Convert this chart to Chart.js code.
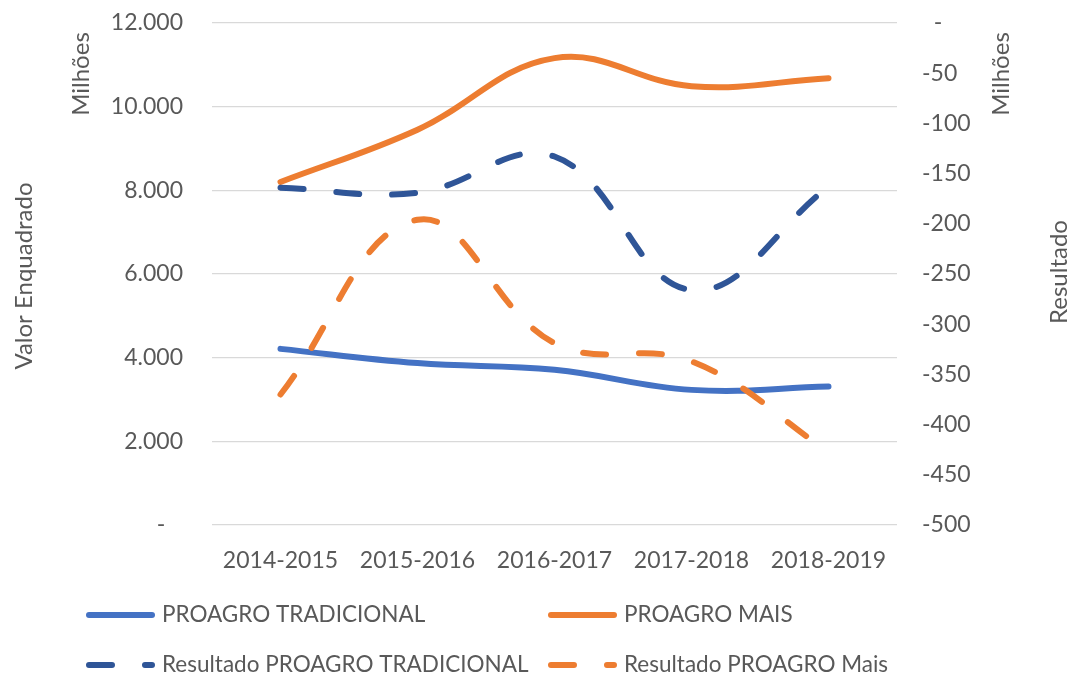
<!DOCTYPE html>
<html>
<head>
<meta charset="utf-8">
<script src="https://cdn.jsdelivr.net/npm/chart.js@4.4.0/dist/chart.umd.min.js"></script>
<style>
  html, body { margin: 0; padding: 0; background: #fff; }
  #wrap { width: 1074px; height: 679px; }
</style>
</head>
<body>
<div id="wrap"><canvas id="chart" width="1074" height="679"></canvas></div>
<script>
// dados (valores em milhões)
const categories = ['2014-2015', '2015-2016', '2016-2017', '2017-2018', '2018-2019'];
const proagroTradicional = [4210, 3870, 3710, 3230, 3310];
const proagroMais = [8200, 9450, 11160, 10490, 10680];
const resultadoTradicional = [-164, -169, -133, -266, -163];
const resultadoMais = [-370, -196, -319, -337, -427];

const leftTicks = [0, 2000, 4000, 6000, 8000, 10000, 12000];
const rightTicks = [-500, -450, -400, -350, -300, -250, -200, -150, -100, -50, 0];

const FONT = 'Lato, "Open Sans", sans-serif';
const TEXT = '#595959';
const BLUE = '#4472C4';
const ORANGE = '#ED7D31';
const DARKBLUE = '#2F5597';
const DASH = [23, 33];

function fmtMil(v) {
    if (v === 0) return '-   ';
    return String(v).replace(/\B(?=(\d{3})+(?!\d))/g, '.');
}

// sem folga extra acima/abaixo dos eixos verticais
function fixVertical(width) {
    return (s) => {
        s.width = width;
        s.paddingTop = 0;
        s.paddingBottom = 0;
    };
}

// títulos dos eixos + legenda desenhados à mão
const extrasPlugin = {
    id: 'extras',
    afterDraw(chart) {
        const ctx = chart.ctx;
        const area = chart.chartArea;
        const midY = (area.top + area.bottom) / 2;
        ctx.save();
        ctx.fillStyle = TEXT;
        ctx.font = '24px ' + FONT;
        ctx.textAlign = 'center';
        ctx.textBaseline = 'middle';

        const vtext = (txt, x, y) => {
            ctx.save();
            ctx.translate(x, y);
            ctx.rotate(-Math.PI / 2);
            ctx.fillText(txt, 0, 0);
            ctx.restore();
        };
        vtext('Valor Enquadrado', 24, midY + 2);
        vtext('Milhões', 81, 74);
        vtext('Milhões', 1001, 74);
        vtext('Resultado', 1059, midY - 2);

        // legenda 2x2
        ctx.font = '22.5px ' + FONT;
        const slots = [[89, 615], [551, 615], [89, 665], [551, 665]];
        chart.data.datasets.forEach((ds, k) => {
            const [x, y] = slots[k];
            ctx.save();
            ctx.strokeStyle = ds.borderColor;
            ctx.lineWidth = ds.borderWidth;
            ctx.lineCap = 'round';
            ctx.setLineDash(ds.borderDash || []);
            ctx.beginPath();
            ctx.moveTo(x, y);
            ctx.lineTo(x + 63, y);
            ctx.stroke();
            ctx.restore();
            ctx.textAlign = 'left';
            ctx.fillText(ds.label, x + 73, y);
        });
        ctx.restore();
    }
};

const chart = new Chart(document.getElementById('chart').getContext('2d'), {
    type: 'line',
    data: {
        labels: categories,
        datasets: [
            { label: 'PROAGRO TRADICIONAL', data: proagroTradicional, yAxisID: 'y',
              borderColor: BLUE, borderWidth: 6, order: 3 },
            { label: 'PROAGRO MAIS', data: proagroMais, yAxisID: 'y',
              borderColor: ORANGE, borderWidth: 6, order: 4 },
            { label: 'Resultado PROAGRO TRADICIONAL', data: resultadoTradicional, yAxisID: 'y1',
              borderColor: DARKBLUE, borderWidth: 6, borderDash: DASH, order: 1 },
            { label: 'Resultado PROAGRO Mais', data: resultadoMais, yAxisID: 'y1',
              borderColor: ORANGE, borderWidth: 6, borderDash: DASH, order: 2 }
        ]
    },
    options: {
        responsive: false,
        animation: false,
        devicePixelRatio: 1,
        layout: { padding: { top: 23, left: 0, right: 0, bottom: 0 } },
        elements: {
            line: { tension: 0.4, borderCapStyle: 'round', borderJoinStyle: 'round', fill: false },
            point: { radius: 0, hoverRadius: 0 }
        },
        plugins: { legend: { display: false }, tooltip: { enabled: false }, title: { display: false } },
        scales: {
            x: {
                offset: true,
                grid: { display: false, drawTicks: false },
                border: { display: false },
                ticks: { color: TEXT, font: { family: FONT, size: 23 }, padding: 22, maxRotation: 0 },
                afterFit: (s) => { s.height = 154; s.paddingLeft = 0; s.paddingRight = 0; }
            },
            y: {
                position: 'left',
                min: 0, max: 12000,
                afterBuildTicks: (s) => { s.ticks = leftTicks.map(v => ({ value: v })); },
                grid: { color: '#D9D9D9', lineWidth: 1.3, drawTicks: false },
                border: { display: false },
                ticks: { color: TEXT, font: { family: FONT, size: 23 }, padding: 29, callback: fmtMil },
                afterFit: fixVertical(212)
            },
            y1: {
                position: 'right',
                min: -500, max: 0,
                afterBuildTicks: (s) => { s.ticks = rightTicks.map(v => ({ value: v })); },
                grid: { display: false, drawTicks: false },
                border: { display: false },
                ticks: { color: TEXT, font: { family: FONT, size: 23 }, padding: 25,
                         callback: (v) => v === 0 ? '  -' : String(v) },
                afterFit: fixVertical(177)
            }
        }
    },
    plugins: [extrasPlugin]
});
</script>
</body>
</html>
